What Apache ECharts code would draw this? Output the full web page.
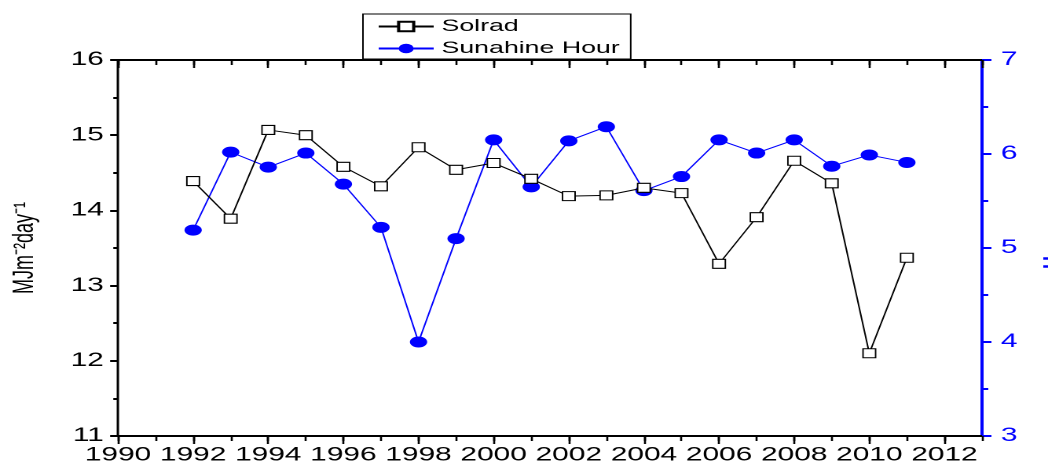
<!DOCTYPE html>
<html>
<head>
<meta charset="utf-8">
<script src="https://cdn.jsdelivr.net/npm/echarts@6/dist/echarts.min.js"></script>
<style>
html,body{margin:0;padding:0;background:#fff;overflow:hidden;width:1048px;height:461px;}
#chart{width:667px;height:461px;transform:scaleX(1.5712);transform-origin:0 0;}
</style>
</head>
<body>
<div id="chart"></div>
<script>
const years = [1992,1993,1994,1995,1996,1997,1998,1999,2000,2001,2002,2003,2004,2005,2006,2007,2008,2009,2010,2011];
const solrad = [14.39,13.89,15.07,15.00,14.58,14.32,14.84,14.54,14.63,14.42,14.19,14.20,14.30,14.23,13.29,13.91,14.66,14.36,12.10,13.37];
const sunshine = [5.19,6.02,5.86,6.01,5.68,5.22,4.00,5.10,6.15,5.65,6.14,6.29,5.61,5.76,6.15,6.01,6.15,5.87,5.99,5.91];
const xRange = [1990, 2013];
const leftRange = [11, 16];
const rightRange = [3, 7];

const FONT = 'Liberation Sans, Arial, sans-serif';
const chart = echarts.init(document.getElementById('chart'), null, { devicePixelRatio: 2 });

function xAxisDef(pos, major) {
  return {
    type: 'value', position: pos, min: xRange[0], max: xRange[1],
    interval: major ? 2 : 1,
    axisLine: { show: major, onZero: false, lineStyle: { color: '#000', width: 2 } },
    axisTick: { show: true, inside: pos === 'top', length: major ? 8 : 5,
      lineStyle: { color: '#000', width: 1.3 } },
    axisLabel: { show: major && pos === 'bottom', showMaxLabel: false,
      formatter: v => String(v),
      color: '#000', fontFamily: FONT, fontSize: 19, margin: 10 },
    splitLine: { show: false }
  };
}

chart.setOption({
  animation: false,
  backgroundColor: '#fff',
  grid: { left: 75.1, right: 42, top: 60, bottom: 25, containLabel: false, outerBoundsMode: 'none' },
  legend: {
    orient: 'vertical', left: 231, top: 14,
    data: ['Solrad', 'Sunahine Hour'],
    itemWidth: 35, itemHeight: 12, itemGap: 5,
    padding: [4, 7, 2, 9],
    borderColor: '#000', borderWidth: 1, borderRadius: 0,
    textStyle: { fontFamily: FONT, fontSize: 17, color: '#000' }
  },
  xAxis: [xAxisDef('bottom', true), xAxisDef('bottom', false), xAxisDef('top', true), xAxisDef('top', false)],
  yAxis: [
    {
      type: 'value', position: 'left', min: leftRange[0], max: leftRange[1], interval: 1,
      name: 'MJm⁻²day⁻¹', nameLocation: 'middle', nameRotate: 90, nameGap: 50,
      nameTextStyle: { fontFamily: FONT, fontSize: 18, color: '#000' },
      axisLine: { show: true, lineStyle: { color: '#000', width: 1.5 } },
      axisTick: { show: true, length: 5, lineStyle: { color: '#000', width: 2 } },
      minorTick: { show: true, splitNumber: 2, length: 3, lineStyle: { color: '#000', width: 2 } },
      axisLabel: { color: '#000', fontFamily: FONT, fontSize: 19, margin: 9 },
      splitLine: { show: false }, minorSplitLine: { show: false }
    },
    {
      type: 'value', position: 'right', min: rightRange[0], max: rightRange[1], interval: 1,
      name: 'Hour', nameLocation: 'middle', nameRotate: 90, nameGap: 38,
      nameTextStyle: { fontFamily: FONT, fontSize: 18, color: '#0000ff', fontWeight: 'bold' },
      axisLine: { show: true, lineStyle: { color: '#0000ff', width: 2 } },
      axisTick: { show: true, length: 6, lineStyle: { color: '#0000ff', width: 2 } },
      minorTick: { show: true, splitNumber: 2, length: 4, lineStyle: { color: '#0000ff', width: 2 } },
      axisLabel: { color: '#0000ff', fontFamily: FONT, fontSize: 19, margin: 12 },
      splitLine: { show: false }, minorSplitLine: { show: false }
    }
  ],
  series: [
    {
      name: 'Sunahine Hour', type: 'line', xAxisIndex: 0, yAxisIndex: 1,
      data: years.map((y, i) => [y, sunshine[i]]),
      symbol: 'circle', symbolSize: 11,
      lineStyle: { color: '#0000ff', width: 1 },
      itemStyle: { color: '#0000ff', borderColor: '#0000ff', borderWidth: 0 },
      z: 2
    },
    {
      name: 'Solrad', type: 'line', xAxisIndex: 0, yAxisIndex: 0,
      data: years.map((y, i) => [y, solrad[i]]),
      symbol: 'rect', symbolSize: [8, 9],
      lineStyle: { color: '#000', width: 1 },
      itemStyle: { color: '#fff', borderColor: '#000', borderWidth: 1 },
      z: 3
    }
  ]
});
</script>
</body>
</html>
